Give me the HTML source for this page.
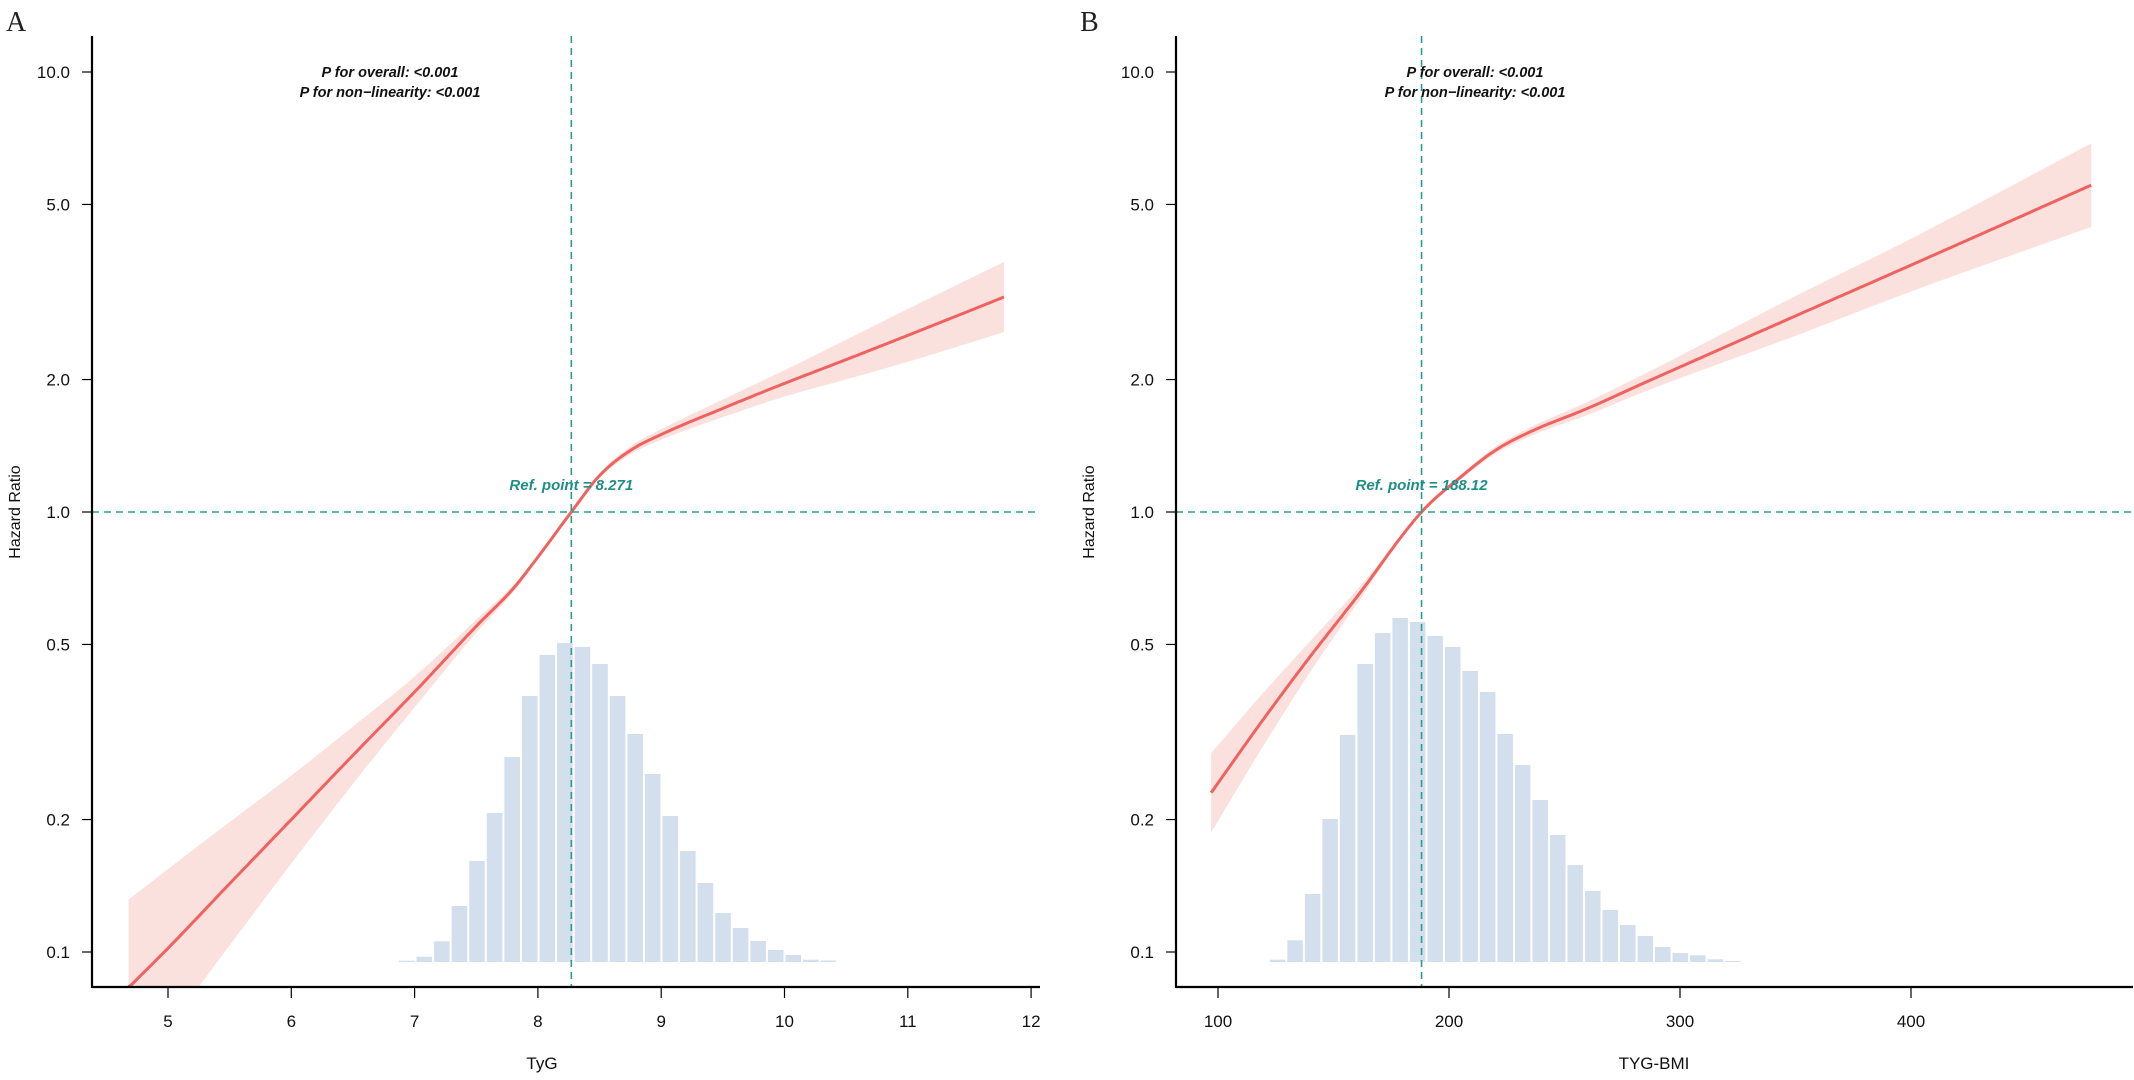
<!DOCTYPE html>
<html><head><meta charset="utf-8"><style>
html,body{margin:0;padding:0;background:#fff;}
svg{display:block;font-family:"Liberation Sans",Arial,sans-serif;}
</style></head><body>
<svg id="chart" width="2134" height="1080" viewBox="0 0 2134 1080"></svg>
<script>
// ---- Panel A data (TyG) ----
const tygX = [4.68, 5.0, 5.5, 6.0, 6.5, 7.0, 7.5, 7.8, 8.0, 8.271, 8.5, 8.75, 9.0, 9.5, 10.0, 10.5, 11.0, 11.78];
const tygHR = [0.083, 0.102, 0.143, 0.2, 0.28, 0.39, 0.55, 0.67, 0.79, 1.0, 1.21, 1.38, 1.5, 1.72, 1.96, 2.22, 2.52, 3.08];
const tygHalf = [0.2, 0.18, 0.14, 0.1, 0.065, 0.035, 0.015, 0.008, 0.004, 0, 0.005, 0.009, 0.012, 0.02, 0.03, 0.045, 0.06, 0.08];
const tygHistStart = 6.865;
const tygHistWidth = 0.1425;
const tygCounts = [1.3, 5.3, 20.7, 56, 101, 149, 205, 266, 307, 319, 315, 298, 266, 228, 188, 146, 111, 79, 49, 34, 21, 12, 7, 2.3, 1.5];
const tygTicks = [5, 6, 7, 8, 9, 10, 11, 12];
const tygRef = 8.271;
// ---- Panel B data (TYG-BMI) ----
const bmiX = [97, 120, 140, 160, 188.12, 205, 220, 235, 260, 284, 350, 400, 478];
const bmiHR = [0.23, 0.34, 0.47, 0.64, 1.0, 1.2, 1.38, 1.52, 1.72, 1.96, 2.79, 3.64, 5.53];
const bmiHalf = [0.09, 0.06, 0.035, 0.016, 0, 0.005, 0.008, 0.01, 0.015, 0.02, 0.045, 0.06, 0.095];
const bmiHistStart = 122;
const bmiHistWidth = 7.58;
const bmiCounts = [2.3, 21.7, 68, 143, 227, 298, 329, 344, 340, 326, 315, 291, 270, 228, 197, 162, 127, 97, 71, 52, 37, 26, 15, 9, 6.7, 2.7, 1];
const bmiTicks = [100, 200, 300, 400];
const bmiRef = 188.12;
// ---- shared y axis ----
const yTicks = [0.1, 0.2, 0.5, 1.0, 2.0, 5.0, 10.0];

const NS = "http://www.w3.org/2000/svg";
const svg = document.getElementById("chart");
function mk(tag, attrs, parent, name, text) {
  const e = document.createElementNS(NS, tag);
  for (const k in attrs) e.setAttribute(k, attrs[k]);
  
  
  if (text !== undefined) e.textContent = text;
  (parent || svg).appendChild(e);
  return e;
}
const yScale = v => 512 - 440 * Math.log10(v);
const histBase = 962, histK = 1.0;

// monotone cubic interpolation (Fritsch-Carlson)
function monotone(xs, ys) {
  const n = xs.length, d = [], m = [];
  for (let i = 0; i < n - 1; i++) d.push((ys[i + 1] - ys[i]) / (xs[i + 1] - xs[i]));
  m[0] = d[0]; m[n - 1] = d[n - 2];
  for (let i = 1; i < n - 1; i++) m[i] = (d[i - 1] * d[i] <= 0) ? 0 : (d[i - 1] + d[i]) / 2;
  for (let i = 0; i < n - 1; i++) {
    if (d[i] === 0) { m[i] = m[i + 1] = 0; continue; }
    const a = m[i] / d[i], b = m[i + 1] / d[i], s = a * a + b * b;
    if (s > 9) { const t = 3 / Math.sqrt(s); m[i] = t * a * d[i]; m[i + 1] = t * b * d[i]; }
  }
  return function (x) {
    let i = 0;
    while (i < n - 2 && x > xs[i + 1]) i++;
    const h = xs[i + 1] - xs[i], t = (x - xs[i]) / h;
    const h00 = 2 * t * t * t - 3 * t * t + 1, h10 = t * t * t - 2 * t * t + t, h01 = -2 * t * t * t + 3 * t * t, h11 = t * t * t - t * t;
    return h00 * ys[i] + h10 * h * m[i] + h01 * ys[i + 1] + h11 * h * m[i + 1];
  };
}

function panel(cfg) {
  const g = mk('g', {}, svg, cfg.name);
  const xs = v => cfg.x0 + cfg.k * (v - cfg.v0);
  const left = cfg.axisLeft, right = cfg.axisRight;
  const hg = mk('g', {}, g, 'histogram');
  cfg.counts.forEach((c, i) => {
    const xa = xs(cfg.hStart + i * cfg.hW), xb = xs(cfg.hStart + (i + 1) * cfg.hW);
    const h = c * histK;
    mk('rect', {x: xa + 1, y: histBase - h, width: xb - xa - 2, height: h, fill: '#d3dfec'}, hg, 'hist-bar');
  });
  const logs = cfg.hr.map(v => Math.log10(v));
  const fMid = monotone(cfg.xs, logs);
  const fHi = monotone(cfg.xs, logs.map((l, i) => l + cfg.half[i]));
  const fLo = monotone(cfg.xs, logs.map((l, i) => l - cfg.half[i]));
  const x0 = cfg.xs[0], x1 = cfg.xs[cfg.xs.length - 1], N = 300;
  const samp = [];
  for (let j = 0; j <= N; j++) samp.push(x0 + (x1 - x0) * j / N);
  const py = l => Math.min(512 - 440 * l, 987).toFixed(1);
  let band = '';
  samp.forEach((v, j) => { band += (j ? 'L' : 'M') + xs(v).toFixed(1) + ',' + py(fHi(v)); });
  for (let j = samp.length - 1; j >= 0; j--) band += 'L' + xs(samp[j]).toFixed(1) + ',' + py(fLo(samp[j]));
  mk('path', {d: band + 'Z', fill: '#fbe1dd'}, g, 'confidence-band');
  let d = '';
  samp.forEach((v, j) => { d += (j ? 'L' : 'M') + xs(v).toFixed(1) + ',' + py(fMid(v)); });
  mk('path', {d: d, fill: 'none', stroke: '#f0625f', 'stroke-width': 3}, g, 'hazard-ratio-curve');
  const rx = xs(cfg.ref);
  mk('line', {x1: rx, y1: 36, x2: rx, y2: 987, stroke: '#2a9d8f', 'stroke-width': 1.6, 'stroke-dasharray': '7,5'}, g, 'ref-vertical-line');
  mk('line', {x1: left, y1: yScale(1), x2: right, y2: yScale(1), stroke: '#2a9d8f', 'stroke-width': 1.6, 'stroke-dasharray': '7,5'}, g, 'ref-horizontal-line');
  mk('line', {x1: left, y1: 36, x2: left, y2: 988, stroke: '#000', 'stroke-width': 2.2}, g, 'y-axis-line');
  mk('line', {x1: left, y1: 987, x2: right, y2: 987, stroke: '#000', 'stroke-width': 2.2}, g, 'x-axis-line');
  yTicks.forEach(t => {
    const y = yScale(t);
    mk('line', {x1: left - 10, y1: y, x2: left, y2: y, stroke: '#000', 'stroke-width': 1.2}, g, 'y-tick');
    mk('text', {x: left - 22, y: y + 6, 'text-anchor': 'end', 'font-size': 17, fill: '#111'}, g, 'y-tick-label', t.toFixed(1));
  });
  cfg.ticks.forEach(t => {
    const x = xs(t);
    mk('line', {x1: x, y1: 987, x2: x, y2: 998, stroke: '#000', 'stroke-width': 1.2}, g, 'x-tick');
    mk('text', {x: x, y: 1027, 'text-anchor': 'middle', 'font-size': 17, fill: '#111'}, g, 'x-tick-label', String(t));
  });
  mk('text', {x: cfg.xlabX, y: 1069, 'text-anchor': 'middle', 'font-size': 17, fill: '#111'}, g, 'x-axis-title', cfg.xlabel);
  mk('text', {x: 0, y: 0, transform: 'translate(' + cfg.ylabX + ',512) rotate(-90)', 'text-anchor': 'middle', 'font-size': 16, fill: '#111'}, g, 'y-axis-title', 'Hazard Ratio');
  mk('text', {x: cfg.pX, y: 77, 'text-anchor': 'middle', 'font-size': 14.5, 'font-weight': 'bold', 'font-style': 'italic', fill: '#111'}, g, 'p-overall-annotation', 'P for overall: <0.001');
  mk('text', {x: cfg.pX, y: 97, 'text-anchor': 'middle', 'font-size': 14.5, 'font-weight': 'bold', 'font-style': 'italic', fill: '#111'}, g, 'p-nonlinearity-annotation', 'P for non\u2212linearity: <0.001');
  mk('text', {x: rx, y: 490, 'text-anchor': 'middle', 'font-size': 15, 'font-weight': 'bold', 'font-style': 'italic', fill: '#1f8f86'}, g, 'ref-point-label', 'Ref. point = ' + cfg.refText);
  mk('text', {x: cfg.letterX, y: 31, 'font-size': 28, 'font-family': '"Liberation Serif",serif', fill: '#222'}, g, 'panel-letter', cfg.letter);
}

panel({name: 'panel-a-tyg', x0: 168, k: 123.3, v0: 5, axisLeft: 92, axisRight: 1040,
  xs: tygX, hr: tygHR, half: tygHalf, counts: tygCounts, hStart: tygHistStart, hW: tygHistWidth,
  ticks: tygTicks, ref: tygRef, refText: '8.271', xlabel: 'TyG', xlabX: 542, ylabX: 20, pX: 390, letter: 'A', letterX: 6});
panel({name: 'panel-b-tyg-bmi', x0: 1218, k: 2.31, v0: 100, axisLeft: 1176, axisRight: 2133,
  xs: bmiX, hr: bmiHR, half: bmiHalf, counts: bmiCounts, hStart: bmiHistStart, hW: bmiHistWidth,
  ticks: bmiTicks, ref: bmiRef, refText: '188.12', xlabel: 'TYG-BMI', xlabX: 1654, ylabX: 1094, pX: 1475, letter: 'B', letterX: 1080});
</script>
</body></html>
